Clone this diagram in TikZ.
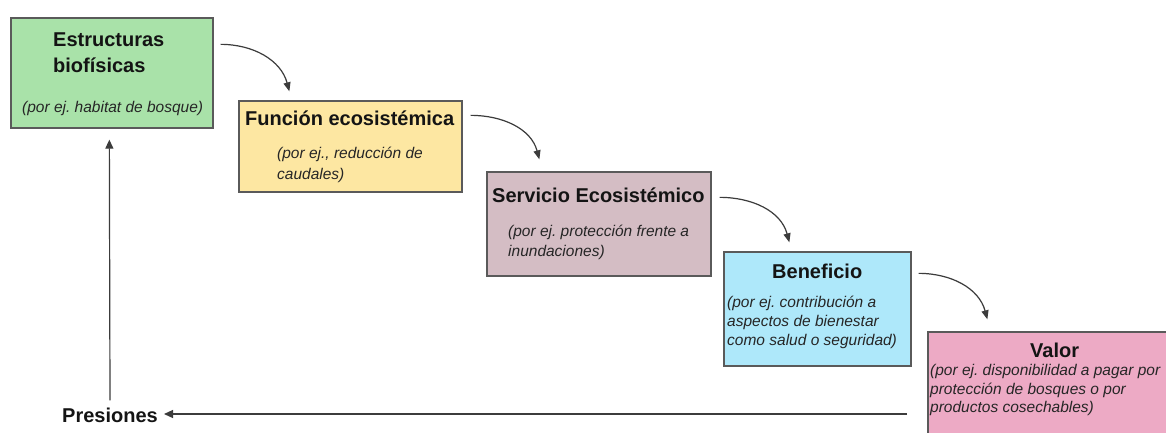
\documentclass[tikz,border=0pt]{standalone}
\usepackage{fontspec}
\setmainfont{Liberation Sans}[ItalicFont={Liberation Sans Italic},BoldFont={Liberation Sans Bold},BoldItalicFont={Liberation Sans Bold Italic}]
\usetikzlibrary{arrows.meta,calc}
\definecolor{cgreen}{HTML}{A9E2A9}
\definecolor{cyellow}{HTML}{FDE7A2}
\definecolor{cmauve}{HTML}{D4BDC4}
\definecolor{cblue}{HTML}{AEE8FA}
\definecolor{cpink}{HTML}{EDAAC5}
\definecolor{cborder}{HTML}{5A5A5A}
\definecolor{ctitle}{HTML}{141414}
\definecolor{cital}{HTML}{262626}
\definecolor{carrow}{HTML}{3C3C3C}
\tikzset{
  box/.style={draw=cborder, line width=1.3pt, inner sep=0pt},
  ttl/.style={inner sep=0pt, anchor=base west, text=ctitle, font=\fontsize{20}{24}\selectfont\bfseries},
  itl/.style={inner sep=0pt, anchor=base west, text=cital, font=\fontsize{15.5}{19}\selectfont\itshape},
  flow/.style={draw=carrow, line width=1.2pt, -{Triangle[length=9pt,width=7pt]}},
  press/.style={draw=carrow, line width=1.2pt, -{Triangle[length=9pt,width=8pt]}}
}
\frenchspacing
\begin{document}
\begin{tikzpicture}[x=1pt,y=-1pt]
\useasboundingbox (0,0) rectangle (1166,433);
\clip (0,0) rectangle (1166,433);
\fill[white] (0,0) rectangle (1166,433);
% boxes
\node[box, fill=cgreen, minimum width=202pt, minimum height=110pt] (g) at (112,73) {};
\node[box, fill=cyellow, minimum width=223pt, minimum height=91pt] (y) at (350.5,146.5) {};
\node[box, fill=cmauve, minimum width=224pt, minimum height=104pt] (m) at (599,224) {};
\node[box, fill=cblue, minimum width=187pt, minimum height=114pt] (b) at (817.5,309) {};
\node[box, fill=cpink, minimum width=260pt, minimum height=140pt] (p) at (1058,402) {};
% texts
\node[ttl] (g1) at (53,47) {Estructuras};
\node[ttl] (g2) at (53,73) {biofísicas};
\node[itl] (g3) at (22,113) {(por ej. habitat de bosque)};
\node[ttl] (y1) at (245,125) {Función ecosistémica};
\node[itl] (y2) at (277,158) {(por ej., reducción de};
\node[itl] (y3) at (277,179) {caudales)};
\node[ttl] (m1) at (492,202) {Servicio Ecosistémico};
\node[itl] (m2) at (508,236) {(por ej. protección frente a};
\node[itl] (m3) at (508,256) {inundaciones)};
\node[ttl] (b1) at (772,278) {Beneficio};
\node[itl] (b2) at (727,307) {(por ej. contribución a};
\node[itl] (b3) at (727,326) {aspectos de bienestar};
\node[itl] (b4) at (727,345) {como salud o seguridad)};
\node[ttl] (p1) at (1030,357) {Valor};
\node[itl] (p2) at (930,375) {(por ej. disponibilidad a pagar por};
\node[itl] (p3) at (930,394) {protección de bosques o por};
\node[itl] (p4) at (930,412) {productos cosechables)};
\node[ttl] (pr) at (62,422) {Presiones};
% flow arrows
\coordinate (a1s) at ($(g.north east)+(7,27)$);
\coordinate (a1e) at ($(y.north west)+(51,-9)$);
\draw[flow] (a1s) to[out=0,in=105] (a1e);
\coordinate (a2s) at ($(y.north east)+(8,15)$);
\coordinate (a2e) at ($(m.north west)+(53,-12)$);
\draw[flow] (a2s) to[out=0,in=105] (a2e);
\coordinate (a3s) at ($(m.north east)+(8,26)$);
\coordinate (a3e) at ($(b.north west)+(66,-9)$);
\draw[flow] (a3s) to[out=0,in=105] (a3e);
\coordinate (a4s) at ($(b.north east)+(7,22)$);
\coordinate (a4e) at ($(p.north west)+(60,-12)$);
\draw[flow] (a4s) to[out=0,in=105] (a4e);
% pressure arrows
\coordinate (hs) at (907,414);
\draw[press] (hs) -- ($(pr.east |- hs)+(6,0)$);
\draw[press] ($(pr.north west)+(48,-7)$) -- ($(g.south west)+(99,11)$);
\end{tikzpicture}
\end{document}
